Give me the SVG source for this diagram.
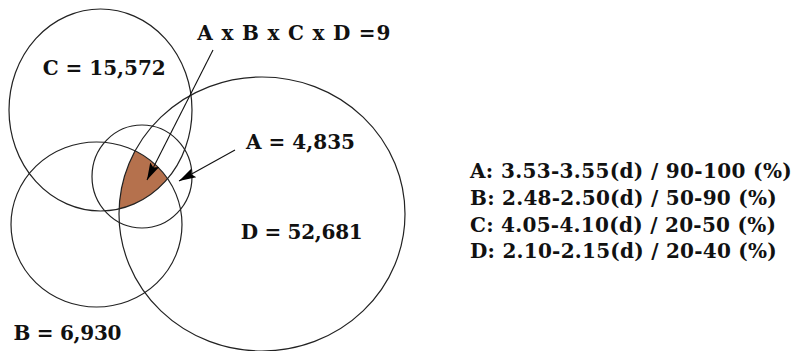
<svg xmlns="http://www.w3.org/2000/svg" width="797" height="351" viewBox="0 0 797 351">
<style>
.c{fill:none;stroke:#222;stroke-width:1.2}
.t{font-family:"DejaVu Serif","Liberation Serif",serif;font-weight:bold;font-size:20px;fill:#111}
.a{stroke:#111;stroke-width:1.1;fill:none}
</style>
<defs>
<clipPath id="clipB"><ellipse cx="96.5" cy="224.5" rx="85.5" ry="82.5"/></clipPath>
<clipPath id="clipC"><ellipse cx="100.5" cy="110" rx="91.5" ry="101"/></clipPath>
<marker id="ah" markerUnits="userSpaceOnUse" markerWidth="18" markerHeight="14" viewBox="0 -7 18 14" refX="17" refY="0" orient="auto">
<path d="M0,-5 L17,0 L0,5 L3,0 z" fill="#000"/>
</marker>
</defs>
<rect width="797" height="351" fill="#fff"/>
<g id="shade" clip-path="url(#clipB)">
<ellipse cx="262" cy="214" rx="143" ry="137" fill="#B5714D" clip-path="url(#clipC)"/>
</g>
<g id="circleC"><ellipse class="c" cx="100.5" cy="110" rx="91.5" ry="101"/><text class="t" x="42.7" y="75" textLength="123">C = 15,572</text></g>
<g id="circleB"><ellipse class="c" cx="96.5" cy="224.5" rx="85.5" ry="82.5"/><text class="t" x="13.5" y="339.5" textLength="108">B = 6,930</text></g>
<g id="circleA"><ellipse class="c" cx="142" cy="176.5" rx="50" ry="51.5"/><text class="t" x="246" y="149" textLength="109">A = 4,835</text></g>
<g id="circleD"><ellipse class="c" cx="262" cy="214" rx="143" ry="137"/><text class="t" x="240.7" y="239" textLength="122">D = 52,681</text></g>
<g id="intersectLabel"><text class="t" x="197.3" y="40" textLength="193">A x B x C x D =9</text></g>
<g id="connectors">
<line class="a" x1="213" y1="50" x2="147" y2="180" marker-end="url(#ah)"/>
<line class="a" x1="235" y1="150" x2="179" y2="181" marker-end="url(#ah)"/>
</g>
<g id="legend">
<text class="t" x="470" y="178.3" textLength="321.7">A: 3.53-3.55(d) / 90-100 (%)</text>
<text class="t" x="470" y="205" textLength="306.7">B: 2.48-2.50(d) / 50-90 (%)</text>
<text class="t" x="470" y="231.7" textLength="306">C: 4.05-4.10(d) / 20-50 (%)</text>
<text class="t" x="470" y="258.3" textLength="306.7">D: 2.10-2.15(d) / 20-40 (%)</text>
</g>
</svg>
